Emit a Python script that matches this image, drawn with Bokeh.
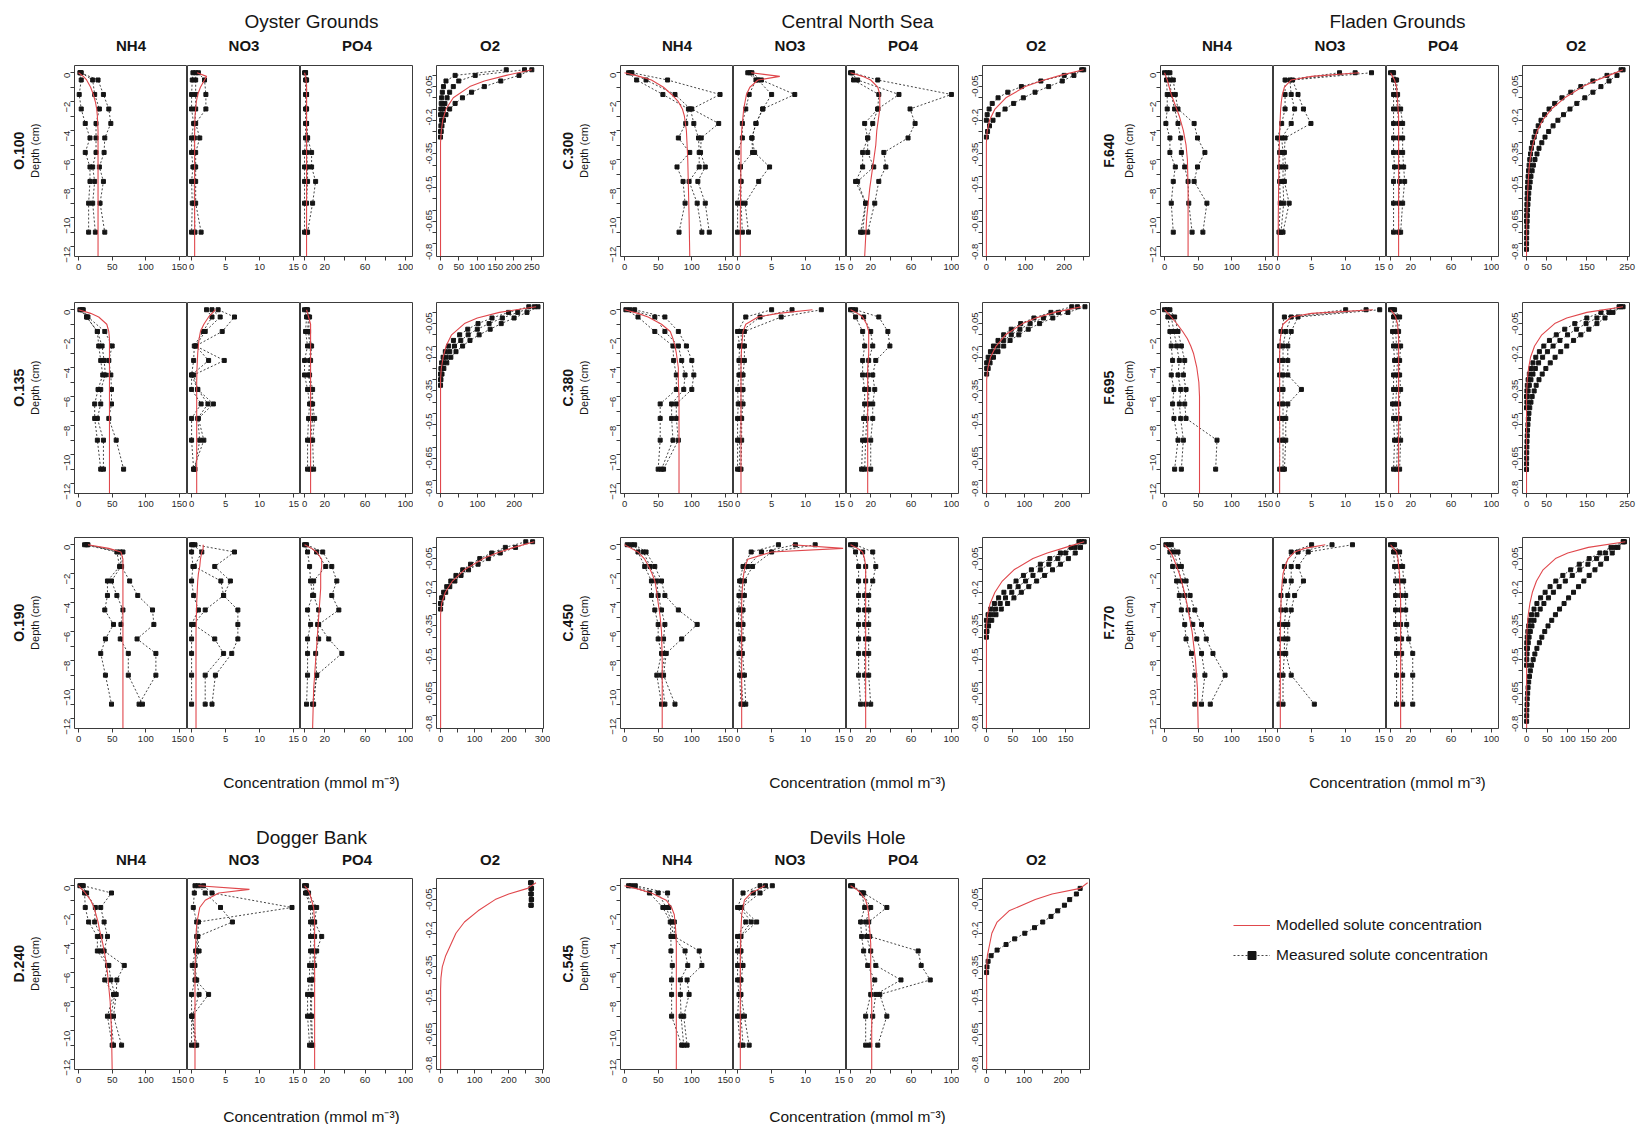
import math
from bokeh.plotting import figure
from bokeh.models import Range1d, FixedTicker, Spacer, Legend, LegendItem
from bokeh.layouts import row, column
from bokeh.embed import file_html
from bokeh.resources import INLINE
from bokeh.core.properties import value

FONT = "Liberation Sans"
RED = "#e0474c"
INK = "#151515"
AXC = "#3a3a3a"

# ---------------------------------------------------------------- data
DEPTH = [0, -0.5, -1.5, -2.5, -3.5, -4.5, -5.5, -6.5, -7.5, -9, -11]
MODEL_DEPTH = [0, -0.25, -0.5, -1, -1.5, -2, -2.5, -3, -4, -5, -6, -8, -10, -12.7]
O2_DEPTH = [-0.025, -0.05, -0.075, -0.1, -0.125, -0.15, -0.175, -0.2, -0.225, -0.25,
            -0.275, -0.3, -0.325, -0.35, -0.375, -0.4, -0.425, -0.45, -0.475, -0.5,
            -0.525, -0.55, -0.575, -0.6, -0.625, -0.65, -0.675, -0.7, -0.725, -0.75,
            -0.775, -0.8, -0.825]
O2_MODEL_DEPTH = [-0.025, -0.05, -0.075, -0.1, -0.15, -0.2, -0.25, -0.3, -0.35, -0.4,
                  -0.45, -0.5, -0.6, -0.7, -0.8, -0.857]

# --- Oyster Grounds
O100_NH4 = [[2, 4, 1, 4, 10, 17, 10, 17, 17, 15, 15], [4, 21, 24, 31, 26, 26, 26, 21, 24, 21, 25], [3, 29, 37, 45, 48, 39, 38, 31, 37, 32, 39]]
O100_NO3 = [[0.2, 0.1, 0.0, 0.0, 0.3, 0.0, 0.0, 0.2, 0.0, 0.1, 0.0], [0.6, 0.6, 0.6, 0.6, 0.5, 0.4, 0.4, 0.5, 0.4, 0.4, 0.5], [1.0, 1.9, 2.1, 2.1, 0.6, 1.2, 0.6, 0.6, 0.6, 0.6, 1.4]]
O100_PO4 = [[0, 1, 1, 1, 1, 1, 0, 0, 0, 0, 0], [1, 2, 2, 2, 2, 3, 2, 3, 3, 2, 2], [1, 2, 2, 2, 2, 3, 7, 7, 11, 8, 3]]
O100_O2 = [[250, 215, 165, 120, 85, 60, 40, 25, 15, 8, 4, 2, 0], [230, 95, 50, 35, 25, 18, 12, 8, 5, 3, 1, 0], [180, 40, 15, 8, 5, 3, 2, 1, 0]]
O100_NH4_MOD = [0, 7, 12, 18, 22, 25, 27, 28, 29, 29, 29, 29, 29, 29]
O100_NO3_MOD = [0.8, 2.2, 1.9, 1.3, 0.9, 0.7, 0.6, 0.5, 0.45, 0.45, 0.45, 0.45, 0.45, 0.45]
O100_PO4_MOD = [0, 1, 1.5, 2, 2, 2, 2, 2, 2, 2, 2, 2, 2, 2]
O100_O2_MOD = [250, 180, 120, 80, 35, 15, 6, 2, 0, 0, 0, 0, 0, 0, 0, 0]

O135_NH4 = [[2, 12, 28, 30, 33, 36, 29, 24, 24, 28, 33], [5, 12, 28, 35, 38, 40, 33, 33, 28, 37, 37], [7, 14, 39, 50, 45, 48, 49, 49, 45, 56, 67]]
O135_NO3 = [[2.2, 3.0, 1.7, 0.4, 0.3, 0.0, 0.0, 1.4, 0.0, 0.0, 0.3], [3.0, 4.2, 2.0, 0.6, 2.5, 0.0, 0.9, 2.4, 0.9, 1.2, 0.5], [3.9, 6.3, 4.5, 0.6, 4.8, 0.3, 0.9, 3.2, 1.0, 1.8, 0.3]]
O135_PO4 = [[0, 2, 1, 3, 0, 0, 3, 5, 4, 3, 3], [2, 4, 3, 6, 5, 4, 6, 7, 8, 6, 6], [3, 5, 4, 7, 6, 5, 8, 8, 10, 8, 9]]
O135_O2 = [[265, 235, 200, 165, 135, 105, 80, 60, 42, 28, 17, 9, 4, 1, 0], [255, 210, 168, 132, 100, 75, 55, 38, 25, 15, 8, 3, 1, 0], [240, 185, 140, 102, 74, 52, 35, 22, 13, 7, 3, 1, 0]]
O135_NH4_MOD = [0, 18, 30, 42, 45, 46, 46, 46, 46, 46, 46, 46, 46, 46]
O135_NO3_MOD = [3.5, 3.0, 2.5, 1.8, 1.3, 1.1, 1.0, 0.9, 0.8, 0.75, 0.75, 0.75, 0.75, 0.75]
O135_PO4_MOD = [2, 3, 4, 6, 6, 6, 6, 6, 6, 6, 6, 6, 6, 6]
O135_O2_MOD = [260, 160, 100, 65, 30, 15, 7, 2, 0, 0, 0, 0, 0, 0, 0, 0]

O190_NH4 = [[9, 57, 61, 43, 43, 39, 52, 40, 33, 40, 49], [12, 62, 63, 49, 57, 66, 63, 62, 74, 74, 95], [14, 66, 64, 76, 88, 110, 112, 87, 115, 115, 90]]
O190_NO3 = [[0.0, 0.0, 0.2, 0.0, 0.3, 1.0, 0.0, 0.0, 0.0, 0.0, 0.0], [0.2, 1.5, 0.4, 4.3, 4.7, 2.0, 0.3, 3.4, 4.7, 2.0, 2.0], [0.5, 6.3, 3.4, 5.7, 4.7, 6.8, 6.8, 6.8, 5.9, 3.5, 3.0]]
O190_PO4 = [[0, 3, 5, 6, 8, 3, 6, 3, 3, 3, 2], [1, 12, 21, 9, 9, 14, 13, 14, 11, 12, 8], [2, 18, 27, 32, 27, 34, 14, 24, 37, 12, 9]]
O190_O2 = [[270, 220, 175, 140, 110, 82, 60, 42, 27, 15, 6, 1, 0], [250, 190, 150, 115, 88, 65, 45, 30, 18, 9, 3, 0]]
O190_NH4_MOD = [14, 45, 63, 66, 66, 66, 66, 66, 66, 66, 66, 66, 66, 66]
O190_NO3_MOD = [1.7, 1.7, 1.5, 1.3, 1.2, 1.0, 0.9, 0.85, 0.75, 0.7, 0.65, 0.65, 0.65, 0.65]
O190_PO4_MOD = [0, 7, 12, 17, 17, 16, 16, 16, 15, 14, 13, 11, 9, 8]
O190_O2_MOD = [275, 215, 165, 125, 70, 35, 14, 3, 0, 0, 0, 0, 0, 0, 0, 0]

# --- Central North Sea
C300_NH4 = [[6, 18, 57, 95, 91, 80, 97, 78, 87, 90, 81], [9, 32, 75, 98, 103, 110, 111, 111, 96, 108, 115], [11, 64, 142, 100, 140, 114, 113, 120, 109, 120, 126]]
C300_NO3 = [[1.5, 2.7, 1.7, 1.2, 0.7, 0.7, 0.0, 0.4, 0.5, 0.0, 0.0], [1.8, 3.0, 5.0, 3.7, 2.7, 2.1, 2.2, 0.4, 0.5, 0.5, 0.7], [2.1, 3.5, 8.4, 3.7, 2.7, 2.1, 2.5, 4.7, 3.1, 1.1, 1.6]]
C300_PO4 = [[0, 3, 28, 27, 14, 17, 12, 12, 5, 15, 10], [1, 7, 48, 27, 22, 17, 17, 23, 7, 15, 12], [2, 27, 100, 59, 64, 57, 33, 35, 28, 24, 17]]
C300_O2 = [[250, 200, 140, 90, 55, 30, 15, 7, 2, 0], [245, 225, 195, 160, 125, 95, 70, 48, 30, 17, 8, 3, 0]]
C300_NH4_MOD = [0, 22, 40, 58, 70, 80, 86, 89, 92, 93, 94, 95, 96, 97]
C300_NO3_MOD = [2.0, 6.2, 3.0, 1.8, 1.3, 1.1, 0.9, 0.8, 0.6, 0.5, 0.5, 0.45, 0.4, 0.4]
C300_PO4_MOD = [0, 12, 20, 27, 29, 29, 29, 28, 26, 25, 23, 19, 16, 14]
C300_O2_MOD = [250, 190, 140, 100, 50, 22, 8, 2, 0, 0, 0, 0, 0, 0, 0, 0]

C380_NH4 = [[2, 20, 45, 72, 73, 77, 77, 53, 53, 53, 50], [8, 45, 60, 80, 85, 90, 88, 70, 70, 72, 55], [15, 60, 80, 92, 100, 103, 100, 77, 77, 80, 58]]
C380_NO3 = [[5, 1.2, 0.0, 0.3, 0.2, 0.2, 0.0, 0.1, 0.0, 0.0, 0.0], [8, 3.3, 0.5, 0.6, 0.5, 0.5, 0.5, 0.5, 0.5, 0.3, 0.3], [12.3, 6.4, 1.0, 1.0, 1.0, 0.8, 0.8, 0.8, 0.6, 0.6, 0.5]]
C380_PO4 = [[0, 5, 12, 14, 12, 12, 14, 14, 13, 12, 11], [2, 13, 20, 22, 18, 17, 18, 18, 16, 15, 14], [5, 28, 37, 39, 25, 22, 24, 22, 22, 20, 20]]
C380_O2 = [[260, 215, 175, 140, 110, 85, 62, 45, 30, 18, 9, 4, 0], [240, 190, 150, 115, 88, 65, 45, 30, 18, 9, 3, 0], [225, 170, 125, 90, 65, 45, 30, 18, 10, 4, 0]]
C380_NH4_MOD = [0, 20, 35, 55, 68, 72, 75, 77, 80, 80, 81, 81, 81, 81]
C380_NO3_MOD = [11, 6.0, 3.0, 1.2, 0.8, 0.7, 0.6, 0.55, 0.5, 0.5, 0.5, 0.5, 0.5, 0.5]
C380_PO4_MOD = [0, 7, 12, 16, 18, 18, 18, 18, 17, 17, 17, 17, 17, 17]
C380_O2_MOD = [250, 180, 130, 95, 50, 25, 10, 3, 0, 0, 0, 0, 0, 0, 0, 0]

C450_NH4 = [[4, 20, 30, 40, 40, 45, 50, 50, 55, 48, 55], [10, 28, 38, 48, 50, 55, 60, 58, 60, 55, 60], [15, 32, 45, 55, 60, 80, 108, 85, 62, 58, 75]]
C450_NO3 = [[6, 2, 0.8, 0.3, 0.2, 0.2, 0.1, 0.3, 0.2, 0.3, 0.5], [8.5, 3.5, 1.5, 0.5, 0.5, 0.5, 0.5, 0.5, 0.5, 0.5, 0.8], [11.4, 5, 2.2, 1.0, 1.0, 0.8, 0.8, 0.8, 0.7, 1.0, 1.2]]
C450_PO4 = [[0, 5, 8, 8, 8, 8, 8, 8, 8, 8, 10], [2, 12, 15, 15, 14, 14, 14, 15, 14, 14, 15], [5, 22, 25, 22, 18, 18, 18, 18, 18, 18, 20]]
C450_O2 = [[185, 178, 168, 155, 140, 125, 110, 95, 80, 66, 52, 40, 28, 18, 10, 4, 1, 0], [180, 168, 150, 135, 118, 102, 88, 74, 60, 48, 36, 26, 17, 10, 4, 1, 0], [175, 160, 140, 120, 102, 85, 70, 56, 44, 33, 23, 15, 8, 3, 0]]
C450_NH4_MOD = [0, 10, 20, 30, 36, 41, 45, 47, 50, 53, 55, 56, 56, 56]
C450_NO3_MOD = [8, 15.5, 5, 1.5, 1.1, 0.9, 0.8, 0.7, 0.6, 0.6, 0.6, 0.6, 0.6, 0.6]
C450_PO4_MOD = [0, 7, 12, 14, 15, 15, 15, 15, 15, 15, 15, 15, 15, 15]
C450_O2_MOD = [185, 150, 115, 88, 52, 30, 16, 7, 2, 0, 0, 0, 0, 0, 0, 0]

# --- Fladen Grounds
F640_NH4 = [[0, 3, 4, 4, 2, 8, 8, 16, 13, 10, 13], [4, 8, 10, 15, 20, 24, 25, 30, 35, 36, 41], [8, 13, 16, 20, 44, 49, 60, 49, 44, 63, 57]]
F640_NO3 = [[9.1, 1.1, 1.1, 1.1, 0.6, 0.0, 0.3, 0.3, 0.3, 0.4, 0.2], [11.4, 1.8, 2.0, 2.5, 2.0, 0.6, 0.8, 0.8, 0.8, 0.9, 0.5], [13.8, 2.2, 3.0, 3.8, 4.9, 1.1, 1.0, 1.2, 1.0, 1.7, 0.8]]
F640_PO4 = [[0, 3, 3, 3, 3, 3, 3, 4, 3, 3, 3], [2, 5, 5, 7, 8, 8, 8, 9, 9, 8, 8], [3, 6, 7, 10, 12, 12, 12, 13, 14, 12, 10]]
F640_O2 = [[235, 225, 205, 185, 165, 145, 125, 108, 92, 78, 66, 55, 46, 38, 31, 26, 21, 17, 14, 11, 9, 7, 5.5, 4.5, 3.5, 2.5, 2, 1.5, 1, 0.5, 0.3, 0.2, 0],
           [240, 200, 165, 135, 110, 88, 70, 56, 45, 36, 29, 23, 19, 15, 12, 10, 8, 6.5, 5, 4, 3, 2.4, 1.8, 1.3, 0.9, 0.6, 0.3, 0]]
F640_NH4_MOD = [0, 2, 4, 7, 10, 14, 18, 22, 28, 32, 34, 35, 35, 35]
F640_NO3_MOD = [12, 5, 2, 1, 0.7, 0.55, 0.45, 0.4, 0.3, 0.25, 0.2, 0.15, 0.1, 0.1]
F640_PO4_MOD = [0, 2, 4, 6, 6.5, 7, 7.5, 8, 8, 8, 8, 8, 8, 8]
F640_O2_MOD = [240, 205, 170, 140, 95, 62, 40, 26, 17, 11, 7, 5, 2, 0.5, 0, 0]

F695_NH4 = [[0, 5, 8, 10, 12, 10, 14, 12, 14, 20, 15], [4, 10, 14, 18, 22, 20, 24, 22, 24, 28, 25], [8, 15, 20, 25, 30, 28, 32, 30, 32, 78, 76]]
F695_NO3 = [[10, 1.0, 0.5, 0.3, 0.3, 0.3, 0.3, 0.3, 0.3, 0.3, 0.3], [13, 2.0, 1.2, 0.8, 0.8, 0.8, 0.8, 0.8, 0.8, 0.8, 0.8], [15, 3.0, 2.0, 1.5, 1.5, 1.5, 3.5, 1.5, 1.2, 1.2, 1.0]]
F695_PO4 = [[0, 3, 2, 3, 4, 3, 3, 2, 3, 4, 3], [2, 6, 5, 6, 7, 6, 6, 5, 6, 7, 6], [4, 9, 8, 10, 9, 9, 10, 8, 9, 10, 9]]
F695_O2 = [[235, 215, 195, 175, 155, 135, 117, 100, 85, 71, 59, 48, 39, 31, 24, 19, 14, 11, 8, 6, 4.5, 3.5, 2.5, 1.8, 1.2, 0.8, 0.5, 0.3, 0.1, 0],
           [240, 205, 175, 148, 124, 102, 83, 66, 52, 40, 30, 22, 16, 11, 7, 4, 2, 1, 0],
           [230, 185, 150, 120, 95, 74, 57, 43, 32, 23, 16, 11, 7, 4, 2, 1, 0]]
F695_NH4_MOD = [0, 5, 10, 19, 27, 34, 39, 43, 48, 51, 52, 52, 52, 52]
F695_NO3_MOD = [14, 5, 2, 0.8, 0.55, 0.4, 0.35, 0.3, 0.3, 0.3, 0.3, 0.3, 0.3, 0.3]
F695_PO4_MOD = [0, 3, 5, 7, 7.5, 8, 8, 8, 8, 8, 8, 8, 8, 8]
F695_O2_MOD = [240, 150, 100, 70, 38, 20, 10, 5, 2, 0.5, 0, 0, 0, 0, 0, 0]

F770_NH4 = [[2, 8, 12, 18, 22, 25, 30, 32, 40, 45, 45], [6, 14, 20, 25, 30, 35, 42, 48, 55, 60, 55], [10, 20, 25, 32, 38, 45, 55, 62, 72, 90, 68]]
F770_NO3 = [[5, 2, 1, 1, 0.5, 0.5, 0.3, 0.3, 0.3, 0.3, 0.2], [8, 3, 2, 2, 1.5, 1.2, 1.0, 1.0, 1.0, 0.8, 0.8], [11, 4.5, 3, 3.8, 2.5, 2.0, 1.5, 1.5, 1.2, 2.0, 5.4]]
F770_PO4 = [[0, 3, 4, 5, 5, 5, 5, 6, 6, 6, 6], [2, 6, 8, 9, 10, 10, 10, 11, 11, 12, 12], [4, 9, 12, 13, 15, 15, 16, 18, 22, 22, 22]]
F770_O2 = [[235, 222, 208, 194, 180, 166, 152, 139, 126, 114, 102, 91, 80, 70, 61, 52, 44, 37, 31, 25, 20, 16, 12, 9, 7, 5, 3.5, 2.5, 1.5, 1, 0.5, 0.2, 0],
           [238, 215, 192, 170, 149, 129, 111, 94, 79, 65, 53, 42, 33, 25, 18, 13, 9, 6, 4, 2, 1, 0.5, 0],
           [235, 205, 178, 152, 128, 107, 88, 71, 57, 45, 34, 25, 18, 12, 8, 5, 3, 1.5, 0.5, 0]]
F770_NH4_MOD = [0, 5, 9, 14, 18, 22, 25, 28, 33, 37, 41, 46, 49, 50]
F770_NO3_MOD = [7, 4, 2.5, 1.5, 1.1, 0.8, 0.7, 0.6, 0.5, 0.45, 0.4, 0.4, 0.4, 0.4]
F770_PO4_MOD = [0, 3, 6, 7.5, 8, 9, 9, 9.5, 10, 10, 10, 10, 10, 10]
F770_O2_MOD = [240, 150, 100, 70, 40, 24, 14, 8, 4, 1.5, 0, 0, 0, 0, 0, 0]

# --- Dogger Bank
D240_NH4 = [[2, 9, 10, 15, 28, 28, 43, 39, 52, 43, 50], [5, 12, 25, 24, 33, 33, 45, 48, 54, 48, 52], [7, 49, 33, 38, 43, 38, 68, 57, 56, 52, 64]]
D240_NO3 = [[0.5, 0.4, 0.25, 0.75, 0.75, 0.6, 0.1, 0.5, 0.0, 0.0, 0.0], [1.0, 2.0, 4.25, 6.0, 0.9, 1.1, 0.5, 0.75, 1.1, 0.1, 0.5], [1.75, 3.0, 14.75, 1.0, 0.9, 0.8, 0.5, 0.6, 2.5, 0.1, 0.75]]
D240_PO4 = [[0, 1, 6, 6, 6, 6, 5, 5, 3, 3, 5], [1, 2, 8, 8, 10, 9, 8, 7, 6, 6, 7], [2, 4, 12, 10, 17, 12, 10, 8, 7, 7, 8]]
D240_O2 = [[264, 265, 265, 266, 266], [266, 267, 266, 267, 265]]
D240_NH4_MOD = [0, 5, 10, 18, 23, 26, 29, 31, 36, 40, 43, 47, 49, 50]
D240_NO3_MOD = [1, 8.5, 4, 2, 1.2, 1.0, 0.8, 0.7, 0.6, 0.55, 0.5, 0.5, 0.5, 0.5]
D240_PO4_MOD = [0, 3, 5, 7, 9, 9.5, 10, 10, 10, 10, 10, 10, 10, 10]
D240_O2_MOD = [280, 255, 200, 160, 110, 70, 45, 30, 15, 5, 1, 0, 0, 0, 0, 0]

# --- Devils Hole
C545_NH4 = [[6, 37, 57, 68, 69, 69, 71, 70, 70, 70, 85], [10, 50, 62, 70, 72, 90, 94, 83, 83, 84, 88], [16, 64, 66, 74, 74, 111, 115, 93, 96, 88, 93]]
C545_NO3 = [[3.3, 0.8, 0.0, 1.2, 0.0, 0.0, 0.0, 0.0, 0.2, 0.0, 0.4], [4.1, 2.3, 0.4, 2.0, 0.4, 0.4, 0.4, 0.4, 0.4, 0.5, 0.8], [5.1, 3.3, 0.6, 2.8, 0.5, 0.5, 0.8, 0.5, 0.5, 1.0, 1.7]]
C545_PO4 = [[0, 11, 14, 10, 11, 13, 17, 24, 20, 15, 15], [1, 12, 20, 15, 16, 20, 25, 50, 25, 22, 19], [2, 13, 36, 18, 19, 67, 70, 79, 29, 36, 27]]
C545_O2 = [[None, 250, 240, 222, 208, 190, 172, 150, 128, 102, 75, 52, 28, 12, 4, 1, 0]]
C545_NH4_MOD = [0, 22, 40, 62, 70, 74, 75, 76, 77, 77, 77, 77, 77, 77]
C545_NO3_MOD = [4, 3, 2, 1, 0.8, 0.6, 0.55, 0.5, 0.45, 0.4, 0.4, 0.4, 0.4, 0.4]
C545_PO4_MOD = [0, 6, 10, 15, 17, 18, 18.5, 19, 20, 20, 20, 21, 21, 21]
C545_O2_MOD = [270, 250, 175, 130, 60, 28, 14, 8, 2, 0, 0, 0, 0, 0, 0, 0]

STATIONS = {
    "O.100": (O100_NH4, O100_NO3, O100_PO4, O100_O2, O100_NH4_MOD, O100_NO3_MOD, O100_PO4_MOD, O100_O2_MOD),
    "O.135": (O135_NH4, O135_NO3, O135_PO4, O135_O2, O135_NH4_MOD, O135_NO3_MOD, O135_PO4_MOD, O135_O2_MOD),
    "O.190": (O190_NH4, O190_NO3, O190_PO4, O190_O2, O190_NH4_MOD, O190_NO3_MOD, O190_PO4_MOD, O190_O2_MOD),
    "C.300": (C300_NH4, C300_NO3, C300_PO4, C300_O2, C300_NH4_MOD, C300_NO3_MOD, C300_PO4_MOD, C300_O2_MOD),
    "C.380": (C380_NH4, C380_NO3, C380_PO4, C380_O2, C380_NH4_MOD, C380_NO3_MOD, C380_PO4_MOD, C380_O2_MOD),
    "C.450": (C450_NH4, C450_NO3, C450_PO4, C450_O2, C450_NH4_MOD, C450_NO3_MOD, C450_PO4_MOD, C450_O2_MOD),
    "F.640": (F640_NH4, F640_NO3, F640_PO4, F640_O2, F640_NH4_MOD, F640_NO3_MOD, F640_PO4_MOD, F640_O2_MOD),
    "F.695": (F695_NH4, F695_NO3, F695_PO4, F695_O2, F695_NH4_MOD, F695_NO3_MOD, F695_PO4_MOD, F695_O2_MOD),
    "F.770": (F770_NH4, F770_NO3, F770_PO4, F770_O2, F770_NH4_MOD, F770_NO3_MOD, F770_PO4_MOD, F770_O2_MOD),
    "D.240": (D240_NH4, D240_NO3, D240_PO4, D240_O2, D240_NH4_MOD, D240_NO3_MOD, D240_PO4_MOD, D240_O2_MOD),
    "C.545": (C545_NH4, C545_NO3, C545_PO4, C545_O2, C545_NH4_MOD, C545_NO3_MOD, C545_PO4_MOD, C545_O2_MOD),
}

# O2 axis: (range, labelled ticks, unlabelled ticks)
O2_AXIS = {
    "O.100": ((-11, 282), [0, 50, 100, 150, 200, 250], []),
    "O.135": ((-11, 280), [0, 100, 200], [50, 150, 250]),
    "O.190": ((-12, 302), [0, 100, 200, 300], [50, 150, 250]),
    "C.300": ((-10, 265), [0, 100, 200], [50, 150, 250]),
    "C.380": ((-11, 272), [0, 100, 200], [50, 150, 250]),
    "C.450": ((-7.5, 195), [0, 50, 100, 150], []),
    "F.640": ((-10, 256), [0, 50, 150, 250], [100, 200]),
    "F.695": ((-10, 256), [0, 50, 150, 250], [100, 200]),
    "F.770": ((-10, 250), [0, 50, 100, 150, 200], []),
    "D.240": ((-12, 302), [0, 100, 200, 300], [50, 150, 250]),
    "C.545": ((-11, 275), [0, 100, 200], [50, 150, 250]),
}

SOLUTES = ["NH4", "NO3", "PO4", "O2"]
GROUPS_TOP = [("Oyster Grounds", ["O.100", "O.135", "O.190"]),
              ("Central North Sea", ["C.300", "C.380", "C.450"]),
              ("Fladen Grounds", ["F.640", "F.695", "F.770"])]
GROUPS_BOTTOM = [("Dogger Bank", ["D.240"]), ("Devils Hole", ["C.545"])]
XTITLE = "Concentration (mmol m\u207b\u00b3)"
LEGEND_LABELS = ["Modelled solute concentration", "Measured solute concentration"]

# ---------------------------------------------------------------- layout constants
MARGIN = 8
FH = 191          # frame height
PW = 113          # width of NH4 / NO3 / PO4 frames
OW = 107          # width of O2 frame
BL = 24           # left border for depth axis
BO = 23           # left border of O2 panel
BR = 7            # right border of O2 panel
BT = 4
GL = [66, 612, 1152]            # x of NH4 frame per column
GSTART = [0, 542, 1088]         # x where each column block begins
LBL_OFF = [(-56, -39.5), (-53, -36.5), (-51.5, -32)]
TOTAL_W = 1628

XR = {"NH4": (-6, 162), "NO3": (-0.6, 16.0), "PO4": (-4, 108)}
XMAJ = {"NH4": [0, 50, 100, 150], "NO3": [0, 5, 10, 15], "PO4": [0, 20, 60, 100]}
XMIN = {"NH4": [], "NO3": [], "PO4": [40, 80]}
DEPTH_MAJ = [0, -2, -4, -6, -8, -10, -12]
DEPTH_MIN = [-1, -3, -5, -7, -9, -11]
O2_YMAJ = [-0.05, -0.2, -0.35, -0.5, -0.65, -0.8]
O2_YMIN = [-0.1, -0.15, -0.25, -0.3, -0.4, -0.45, -0.55, -0.6, -0.7, -0.75]
O2_YLAB = {-0.05: "-0.05", -0.2: "-0.2", -0.35: "-0.35", -0.5: "-0.5", -0.65: "-0.65", -0.8: "-0.8"}


def blank_fig(w, h, flip=True):
    p = figure(width=w, height=h, x_range=Range1d(0, w),
               y_range=Range1d(h, 0) if flip else Range1d(0, h),
               output_backend="svg", toolbar_location=None,
               min_border_left=0, min_border_right=0, min_border_top=0, min_border_bottom=0,
               x_axis_location=None, y_axis_location=None)
    p.outline_line_color = None
    p.xgrid.visible = False
    p.ygrid.visible = False
    return p


def put_text(p, x, y, txt, size, bold=False, angle=0.0, color=INK):
    p.text(x=[x], y=[y], text=[txt], angle=angle, text_align="center", text_baseline="middle",
           text_font=value(FONT), text_font_size=size,
           text_font_style="bold" if bold else "normal", text_color=color)


def style_axis(ax, major, minor, bounds, vertical=False, overrides=None):
    ax.ticker = FixedTicker(ticks=major, minor_ticks=minor)
    ax.bounds = bounds
    ax.axis_line_color = AXC
    ax.major_tick_line_color = AXC
    ax.minor_tick_line_color = AXC
    ax.major_tick_in = 0
    ax.major_tick_out = 4
    ax.minor_tick_in = 0
    ax.minor_tick_out = 4
    ax.major_label_text_font = FONT
    ax.major_label_text_font_size = "9.5px"
    ax.major_label_text_color = "#2a2a2a"
    ax.major_label_standoff = 3
    if vertical:
        ax.major_label_orientation = math.pi / 2
    if overrides:
        ax.major_label_overrides = overrides


def panel(kind, meas, model, bb, o2axis):
    left = BL if kind == "NH4" else (BO if kind == "O2" else 0)
    right = BR if kind == "O2" else 0
    fw = OW if kind == "O2" else PW
    if kind == "O2":
        xr, maj, mino = o2axis
        yr = (-0.857, -0.006)
    else:
        xr = XR[kind]
        yr = (-12.68, 0.5)
    p = figure(width=left + fw + right, height=BT + FH + bb,
               x_range=Range1d(*xr), y_range=Range1d(*yr),
               output_backend="svg", toolbar_location=None,
               min_border_left=left, min_border_right=right, min_border_top=BT, min_border_bottom=bb,
               y_axis_location="left" if kind in ("NH4", "O2") else None)
    p.xgrid.visible = False
    p.ygrid.visible = False
    p.outline_line_color = "#3c3c3c"
    p.outline_line_width = 1
    if kind == "O2":
        style_axis(p.xaxis[0], maj, mino, (0, max(maj + mino)))
        style_axis(p.yaxis[0], O2_YMAJ, O2_YMIN, (-0.8, -0.05), vertical=True, overrides=O2_YLAB)
        for prof in meas:
            xs = [v for v in prof if v is not None]
            ys = [d for v, d in zip(prof, O2_DEPTH) if v is not None]
            p.line(xs, ys, line_color=INK, line_dash="2 2", line_width=0.8)
            p.scatter(xs, ys, size=4, marker="square", color=INK)
        p.line(model, O2_MODEL_DEPTH, line_color=RED, line_width=1.1)
    else:
        style_axis(p.xaxis[0], XMAJ[kind], XMIN[kind], (0, XMAJ[kind][-1]))
        if kind == "NH4":
            style_axis(p.yaxis[0], DEPTH_MAJ, DEPTH_MIN, (-12, 0), vertical=True)
        for rep in meas:
            p.line(rep, DEPTH, line_color=INK, line_dash="2 2", line_width=0.8)
            p.scatter(rep, DEPTH, size=4, marker="square", color=INK)
        p.line(model, MODEL_DEPTH, line_color=RED, line_width=1.1)
    return p


def station_block(st, col, bb):
    nh4, no3, po4, o2, mnh4, mno3, mpo4, mo2 = STATIONS[st]
    start = GSTART[col]
    lw = GL[col] - BL - start
    lab = blank_fig(lw, BT + FH + bb)
    off = LBL_OFF[col]
    yc = BT + FH / 2
    put_text(lab, GL[col] + off[0] - start, yc, st, "14px", bold=True, angle=math.pi / 2)
    put_text(lab, GL[col] + off[1] - start, yc, "Depth (cm)", "11px", angle=math.pi / 2)
    figs = [lab,
            panel("NH4", nh4, mnh4, bb, None),
            panel("NO3", no3, mno3, bb, None),
            panel("PO4", po4, mpo4, bb, None),
            panel("O2", o2, mo2, bb, O2_AXIS[st])]
    return figs


def add_headers(p, groups, y_title, y_sub):
    for col, (name, _) in enumerate(groups):
        g = GL[col]
        put_text(p, g + 237, y_title, name, "19px")
        centers = [g + PW / 2, g + PW * 1.5, g + PW * 2.5, g + 3 * PW + BO + OW / 2]
        for cx, s in zip(centers, SOLUTES):
            put_text(p, cx, y_sub, s, "15px", bold=True)


# ---------------------------------------------------------------- build page
header1 = blank_fig(TOTAL_W, 53)
add_headers(header1, GROUPS_TOP, 13, 37)

rows = []
for r in range(3):
    figs = []
    for col, (_, sts) in enumerate(GROUPS_TOP):
        figs += station_block(sts[r], col, 28)
    rows.append(row(figs, spacing=0))

mid = blank_fig(TOTAL_W, 118)
for col in range(3):
    put_text(mid, GL[col] + 237, 26, XTITLE, "15.5px")
add_headers(mid, GROUPS_BOTTOM, 81, 103)

figs4 = []
for col, (_, sts) in enumerate(GROUPS_BOTTOM):
    figs4 += station_block(sts[0], col, 28)

leg = blank_fig(TOTAL_W - 1088, BT + FH + 28, flip=False)
r1 = leg.line([-50, -40], [-50, -50], line_color=RED, line_width=1.1)
r2 = leg.line([-50, -40], [-50, -50], line_color=INK, line_dash="2 2", line_width=0.8)
r3 = leg.scatter([-45], [-50], size=4, marker="square", color=INK)
legend = Legend(items=[LegendItem(label=LEGEND_LABELS[0], renderers=[r1]),
                       LegendItem(label=LEGEND_LABELS[1], renderers=[r2, r3])],
                location=(137, 104), border_line_color=None, background_fill_alpha=0,
                label_text_font=FONT, label_text_font_size="15.5px", label_text_color=INK,
                glyph_width=37, glyph_height=20, spacing=10, padding=0, margin=0,
                label_standoff=6)
leg.add_layout(legend)
figs4.append(leg)

footer = blank_fig(TOTAL_W, 27)
for col in range(2):
    put_text(footer, GL[col] + 237, 19, XTITLE, "15.5px")

page = column([header1, rows[0], Spacer(width=TOTAL_W, height=14), rows[1],
               Spacer(width=TOTAL_W, height=12), rows[2], mid, row(figs4, spacing=0), footer],
              spacing=0)
root = column([Spacer(width=TOTAL_W + MARGIN, height=MARGIN),
               row([Spacer(width=MARGIN, height=10), page], spacing=0)], spacing=0)

open("out.html", "w").write(file_html(root, INLINE))
